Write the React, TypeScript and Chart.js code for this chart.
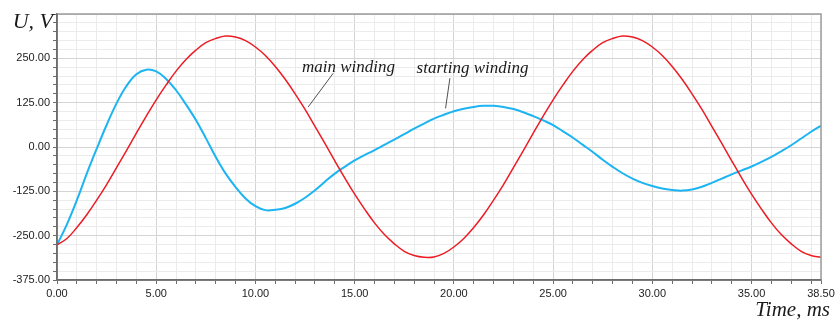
import { useEffect, useRef } from "react";
import { Chart, registerables } from "chart.js";

Chart.register(...registerables);

// Time axis (ms)
const timeMs = [
  0, 0.5, 1, 1.5, 2, 2.5, 3, 3.5, 4, 4.5, 5, 5.5, 6, 6.5, 7, 7.5, 8, 8.5, 9, 9.5,
  10, 10.5, 11, 11.5, 12, 12.5, 13, 13.5, 14, 14.5, 15, 15.5, 16, 16.5, 17, 17.5, 18, 18.5, 19, 19.5,
  20, 20.5, 21, 21.5, 22, 22.5, 23, 23.5, 24, 24.5, 25, 25.5, 26, 26.5, 27, 27.5, 28, 28.5, 29, 29.5,
  30, 30.5, 31, 31.5, 32, 32.5, 33, 33.5, 34, 34.5, 35, 35.5, 36, 36.5, 37, 37.5, 38, 38.5,
];

// Main winding voltage (V)
const mainWinding = [
  -276, -258, -227, -191, -150, -106, -58, -10, 39, 87, 133, 175, 214, 247, 273, 294, 306, 313, 310, 300,
  282, 258, 227, 191, 150, 106, 58, 10, -39, -87, -133, -175, -214, -247, -273, -294, -306, -311, -310, -300,
  -282, -258, -227, -191, -150, -106, -58, -10, 39, 87, 133, 175, 214, 247, 273, 294, 306, 313, 310, 300,
  282, 258, 227, 191, 150, 106, 58, 10, -39, -87, -133, -175, -214, -247, -273, -294, -306, -311,
];

// Starting winding voltage (V)
const startingWinding = [
  -276, -218, -150, -75, -5, 62, 123, 172, 205, 218, 213, 192, 160, 120, 76, 25, -28, -75, -113, -145,
  -167, -178, -177, -172, -160, -143, -122, -98, -75, -56, -38, -23, -9, 6, 21, 36, 52, 66, 80, 91,
  101, 108, 113, 116, 116, 113, 107, 98, 87, 75, 62, 44, 26, 6, -14, -36, -56, -74, -89, -101,
  -110, -117, -121, -123, -120, -112, -101, -89, -77, -66, -55, -42, -28, -12, 5, 24, 43, 60,
];

// Labelled ticks
const xLabelTicks = [0, 5, 10, 15, 20, 25, 30, 35, 38.5];
const yLabelTicks = [-375, -250, -125, 0, 125, 250];

const X_MIN = 0;
const X_MAX = 38.5;
const Y_MIN = -375;
const Y_MAX = 375;

// Annotation texts (anchored in data units)
const annotations = [
  { text: "main winding", x: 12.34, y: 212, from: [13.92, 208], to: [12.66, 113] },
  { text: "starting winding", x: 18.12, y: 209, from: [19.8, 194], to: [19.58, 109] },
];

const SERIF = '"Liberation Serif", "Times New Roman", "DejaVu Serif", serif';
const SANS = '"Liberation Sans", Arial, sans-serif';

const overlayPlugin = {
  id: "overlay",
  afterDraw(chart: any) {
    const { ctx, chartArea, scales } = chart;
    const { left, top, right, bottom } = chartArea;
    const xs = scales.x;
    const ys = scales.y;
    ctx.save();
    // frame top/right
    ctx.strokeStyle = "#9c9c9c";
    ctx.lineWidth = 1.5;
    ctx.beginPath();
    ctx.moveTo(left, top);
    ctx.lineTo(right, top);
    ctx.lineTo(right, bottom);
    ctx.stroke();
    // frame left/bottom
    ctx.strokeStyle = "#6e6e6e";
    ctx.lineWidth = 1.5;
    ctx.beginPath();
    ctx.moveTo(left, top);
    ctx.lineTo(left, bottom);
    ctx.lineTo(right, bottom);
    ctx.stroke();

    // annotations
    ctx.strokeStyle = "#505050";
    ctx.lineWidth = 1;
    ctx.fillStyle = "#1a1a1a";
    ctx.font = `italic 17px ${SERIF}`;
    ctx.textAlign = "left";
    ctx.textBaseline = "alphabetic";
    for (const a of annotations) {
      ctx.beginPath();
      ctx.moveTo(xs.getPixelForValue(a.from[0]), ys.getPixelForValue(a.from[1]));
      ctx.lineTo(xs.getPixelForValue(a.to[0]), ys.getPixelForValue(a.to[1]));
      ctx.stroke();
      ctx.fillText(a.text, xs.getPixelForValue(a.x), ys.getPixelForValue(a.y));
    }

    // axis titles
    ctx.textAlign = "right";
    ctx.font = `italic 22px ${SERIF}`;
    ctx.fillText("U, V", left - 4, top + 14);
    ctx.font = `italic 21px ${SERIF}`;
    ctx.fillText("Time, ms", right + 9, bottom + 36);
    ctx.restore();
  },
};

export default function App() {
  const canvasRef = useRef<HTMLCanvasElement | null>(null);

  useEffect(() => {
    if (!canvasRef.current) return;
    const chart = new Chart(canvasRef.current, {
      type: "line",
      data: {
        datasets: [
          {
            label: "main winding",
            data: timeMs.map((t, i) => ({ x: t, y: mainWinding[i] })),
            borderColor: "#ec1c24",
            borderWidth: 1.5,
            pointRadius: 0,
            tension: 0.4,
            fill: false,
          },
          {
            label: "starting winding",
            data: timeMs.map((t, i) => ({ x: t, y: startingWinding[i] })),
            borderColor: "#1cb4f2",
            borderWidth: 2,
            pointRadius: 0,
            tension: 0.4,
            fill: false,
          },
        ],
      },
      options: {
        animation: false,
        responsive: false,
        layout: { padding: { top: 14, right: 14, left: 0, bottom: 0 } },
        plugins: {
          legend: { display: false },
          tooltip: { enabled: false },
        },
        scales: {
          x: {
            type: "linear",
            min: X_MIN,
            max: X_MAX,
            afterBuildTicks(scale: any) {
              const ticks: { value: number }[] = [];
              for (let v = X_MIN; v <= 38; v += 1) ticks.push({ value: v });
              ticks.push({ value: X_MAX });
              scale.ticks = ticks;
            },
            afterFit(scale: any) {
              scale.height = 41;
              scale.paddingLeft = 0;
              scale.paddingRight = 0;
            },
            ticks: {
              autoSkip: false,
              maxRotation: 0,
              padding: 3,
              color: "#222",
              font: { family: SANS, size: 11 },
              callback: (v: any) => (xLabelTicks.includes(Number(v)) ? Number(v).toFixed(2) : ""),
            },
            grid: {
              color: (c: any) =>
                c.tick && c.tick.value % 5 === 0 ? "#d4d4d4" : "#ebebeb",
              tickColor: "#6e6e6e",
              tickLength: 4,
              lineWidth: 1,
            },
            border: { color: "#6e6e6e", width: 1.5 },
          },
          y: {
            type: "linear",
            min: Y_MIN,
            max: Y_MAX,
            afterFit(scale: any) {
              scale.width = 57;
              scale.paddingTop = 0;
              scale.paddingBottom = 0;
            },
            ticks: {
              stepSize: 25,
              autoSkip: false,
              padding: 3,
              color: "#222",
              font: { family: SANS, size: 11 },
              callback: (v: any) => (yLabelTicks.includes(Number(v)) ? Number(v).toFixed(2) : ""),
            },
            grid: {
              color: (c: any) =>
                c.tick && c.tick.value % 125 === 0 ? "#d4d4d4" : "#ebebeb",
              tickColor: "#6e6e6e",
              tickLength: 4,
              lineWidth: 1,
            },
            border: { color: "#6e6e6e", width: 1.5 },
          },
        },
      },
      plugins: [overlayPlugin],
    });
    return () => chart.destroy();
  }, []);

  return (
    <div style={{ position: "fixed", left: 0, top: 0, width: 835, height: 321, background: "#fff" }}>
      <canvas ref={canvasRef} width={835} height={321} style={{ display: "block" }} />
    </div>
  );
}
